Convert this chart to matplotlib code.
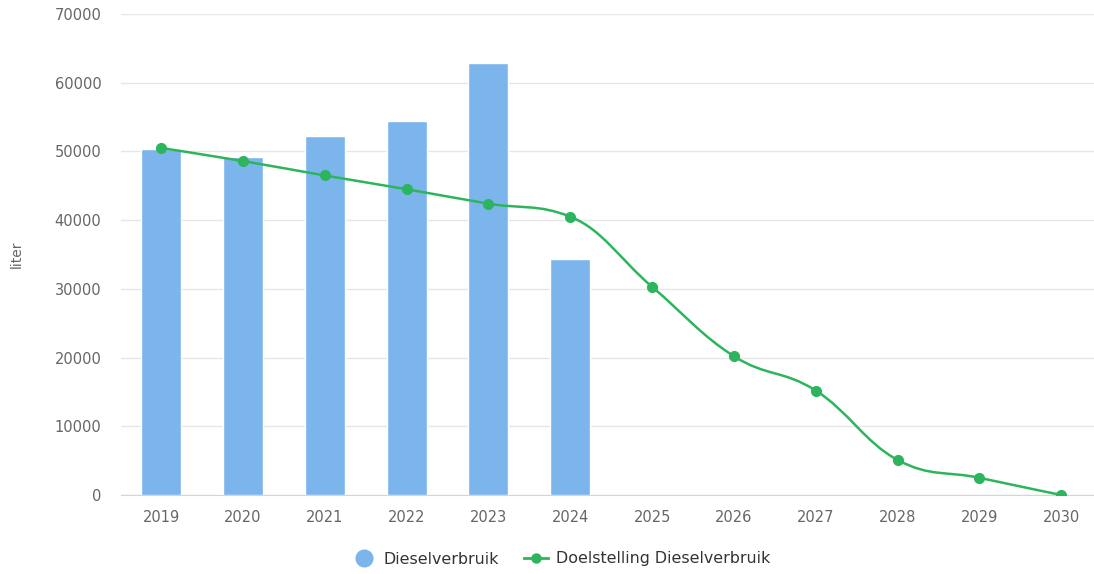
import numpy as np
import matplotlib.pyplot as plt
from matplotlib.path import Path
from matplotlib.patches import PathPatch
from matplotlib.lines import Line2D

plt.rcParams['font.family'] = ['DejaVu Sans']

years = ['2019', '2020', '2021', '2022', '2023', '2024', '2025', '2026', '2027', '2028', '2029', '2030']
verbruik = [50300, 49200, 52200, 54400, 62900, 34400]
doel = [50500, 48600, 46500, 44500, 42400, 40500, 30300, 20200, 15200, 5100, 2500, 0]

bar_color = '#7cb5ec'
line_color = '#2db55d'


def spline_path(xs, ys, smoothing=1.5):
    # highcharts-like spline through the points, built as cubic bezier segments
    denom = smoothing + 1
    n = len(xs)
    verts = [(xs[0], ys[0])]
    codes = [Path.MOVETO]
    prev_right = (xs[0], ys[0])
    for i in range(1, n):
        x, y = xs[i], ys[i]
        if i < n - 1:
            lx, ly = xs[i - 1], ys[i - 1]
            nx, ny = xs[i + 1], ys[i + 1]
            lcx = (smoothing * x + lx) / denom
            lcy = (smoothing * y + ly) / denom
            rcx = (smoothing * x + nx) / denom
            rcy = (smoothing * y + ny) / denom
            corr = (rcy - lcy) * (rcx - x) / (rcx - lcx) + y - rcy
            lcy += corr
            rcy += corr
            if lcy > max(ly, y):
                lcy = max(ly, y)
                rcy = 2 * y - lcy
            elif lcy < min(ly, y):
                lcy = min(ly, y)
                rcy = 2 * y - lcy
            if rcy > max(y, ny):
                rcy = max(y, ny)
                lcy = 2 * y - rcy
            elif rcy < min(y, ny):
                rcy = min(y, ny)
                lcy = 2 * y - rcy
            left = (lcx, lcy)
            right = (rcx, rcy)
        else:
            left = (x, y)
            right = (x, y)
        verts += [prev_right, left, (x, y)]
        codes += [Path.CURVE4] * 3
        prev_right = right
    return Path(verts, codes)


fig = plt.figure(figsize=(10.94, 5.74), dpi=100)
ax = fig.add_axes([121 / 1094, 1 - 495 / 574, (1094 - 121) / 1094, (495 - 14) / 574])

x = np.arange(len(years))
ax.bar(x[:len(verbruik)], verbruik, width=0.49, color=bar_color, edgecolor='white',
       linewidth=1, zorder=2)

path = spline_path(list(x.astype(float)), doel)
ax.add_patch(PathPatch(path, facecolor='none', edgecolor=line_color, lw=1.8, zorder=3))
ax.plot(x, doel, 'o', color=line_color, ms=7, zorder=4)

ax.set_xlim(-0.49, 11.4)
ax.set_ylim(0, 70000)
ax.set_yticks(range(0, 70001, 10000))
ax.set_xticks(x)
ax.set_xticklabels(years)
ax.grid(axis='y', color='#e6e6e6', lw=1, zorder=0)
for s in ['top', 'right', 'left']:
    ax.spines[s].set_visible(False)
ax.spines['bottom'].set_color('#ccd6eb')
ax.spines['bottom'].set_zorder(1)
ax.tick_params(axis='both', length=0, labelsize=10.5, colors='#666666')
ax.tick_params(axis='x', pad=10.5)
ax.tick_params(axis='y', pad=14)
ax.set_ylabel('liter', fontsize=10, color='#666666')
ax.yaxis.set_label_coords(-0.1, 0.5)

handles = [
    Line2D([], [], marker='o', ls='none', color=bar_color, ms=12),
    Line2D([], [], marker='o', color=line_color, lw=2, ms=6.5),
]
fig.legend(handles, ['Dieselverbruik', 'Doelstelling Dieselverbruik'], loc='center',
           bbox_to_anchor=(0.513, 1 - 559 / 574), ncol=2, frameon=False, fontsize=11.4,
           labelcolor='#333333', handlelength=1.5, columnspacing=1.6, handletextpad=0.5)

fig.savefig('out.png', dpi=100)
